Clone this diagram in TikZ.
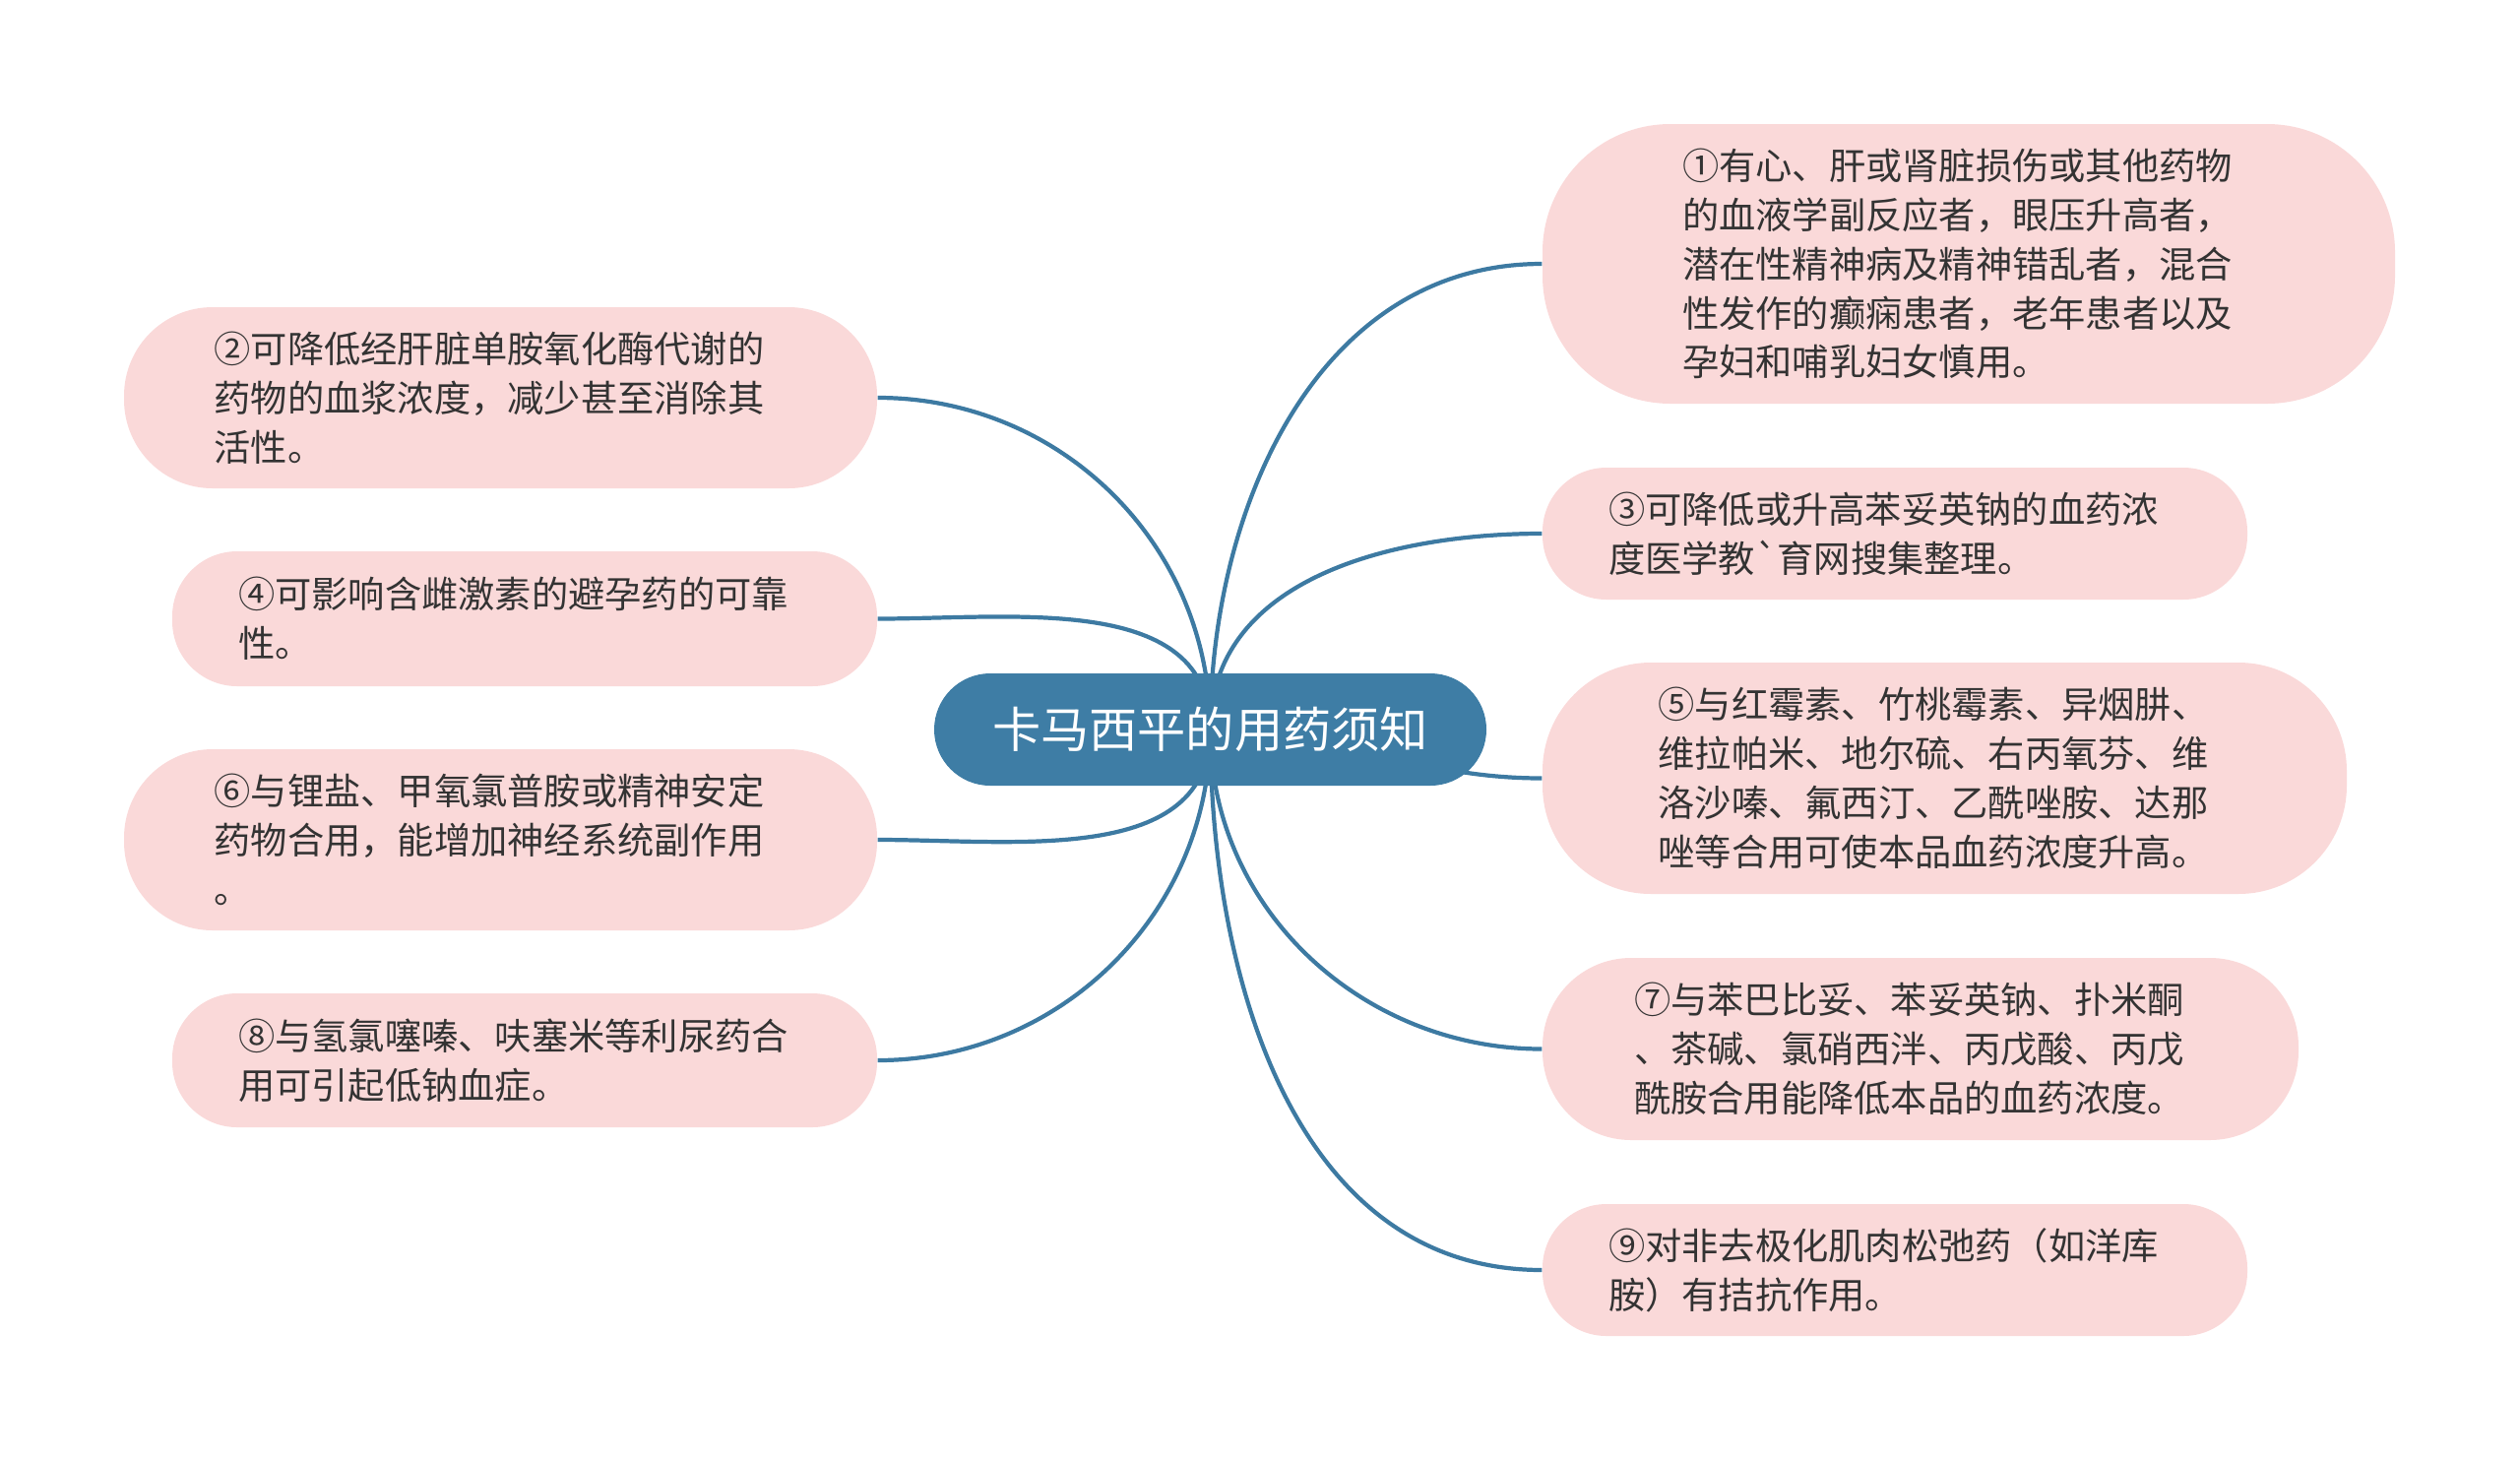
\documentclass[tikz,border=0pt]{standalone}
\usepackage{fontspec}
\newfontfamily\zhfont{Noto Sans CJK SC}
\usepackage{tikz}
\usetikzlibrary{positioning,backgrounds}
\definecolor{rootblue}{HTML}{3E7DA5}
\definecolor{leafpink}{HTML}{FAD9D9}
\definecolor{linkblue}{HTML}{3D7AA2}
\definecolor{leaftext}{HTML}{333333}

\begin{document}
\begin{tikzpicture}[
    root/.style = {rectangle, fill=rootblue, rounded corners=0.57cm, minimum width=5.61cm, minimum height=1.14cm, text=white, font=\zhfont\fontsize{14}{17}\selectfont},
    leaf/.style = {rectangle, fill=leafpink, text=leaftext, text width=5.82cm, align=left, inner sep=0pt, font=\zhfont\fontsize{10.6}{14.2}\selectfont},
    link/.style = {draw=linkblue, line width=1.2pt}
]
    \useasboundingbox (0,0) rectangle (25.6,-14.83);

    % Central topic
    \node[root] (root) at (12.295,-7.41) {卡马西平的用药须知};

    % Right branches
    \node[leaf, minimum width=8.66cm, minimum height=2.84cm, rounded corners=1.3cm] (caution) at (20.00,-2.68) {①有心、肝或肾脏损伤或其他药物\\的血液学副反应者，眼压升高者，\\潜在性精神病及精神错乱者，混合\\性发作的癫痫患者，老年患者以及\\孕妇和哺乳妇女慎用。};
    \node[leaf, minimum width=7.16cm, minimum height=1.34cm, rounded corners=0.65cm] (phenytoin) at (19.25,-5.42) {③可降低或升高苯妥英钠的血药浓\\度医学教`育网搜集整理。};
    \node[leaf, minimum width=8.17cm, minimum height=2.35cm, rounded corners=1.1cm] (raise) at (19.755,-7.905) {⑤与红霉素、竹桃霉素、异烟肼、\\维拉帕米、地尔硫、右丙氧芬、维\\洛沙嗪、氟西汀、乙酰唑胺、达那\\唑等合用可使本品血药浓度升高。};
    \node[leaf, minimum width=7.68cm, minimum height=1.85cm, rounded corners=0.9cm] (lower) at (19.51,-10.655) {⑦与苯巴比妥、苯妥英钠、扑米酮\\、茶碱、氯硝西泮、丙戊酸、丙戊\\酰胺合用能降低本品的血药浓度。};
    \node[leaf, minimum width=7.16cm, minimum height=1.34cm, rounded corners=0.65cm] (relaxant) at (19.25,-12.90) {⑨对非去极化肌肉松弛药（如洋库\\胺）有拮抗作用。};

    % Left branches
    \node[leaf, minimum width=7.65cm, minimum height=1.84cm, rounded corners=0.9cm] (maoi) at (5.085,-4.04) {②可降低经肝脏单胺氧化酶代谢的\\药物的血浆浓度，减少甚至消除其\\活性。};
    \node[leaf, minimum width=7.16cm, minimum height=1.37cm, rounded corners=0.66cm] (contraceptive) at (5.33,-6.285) {④可影响含雌激素的避孕药的可靠\\性。};
    \node[leaf, minimum width=7.65cm, minimum height=1.84cm, rounded corners=0.9cm] (lithium) at (5.085,-8.53) {⑥与锂盐、甲氧氯普胺或精神安定\\药物合用，能增加神经系统副作用\\。};
    \node[leaf, minimum width=7.16cm, minimum height=1.36cm, rounded corners=0.66cm] (diuretic) at (5.33,-10.77) {⑧与氢氯噻嗪、呋塞米等利尿药合\\用可引起低钠血症。};

    % Curved connectors behind the nodes
    \begin{scope}[on background layer]
        \draw[link] (root.center) to[out=90,in=180] (caution.west);
        \draw[link] (root.center) to[out=90,in=180] (phenytoin.west);
        \draw[link] (root.center) to[out=0,in=180] (raise.west);
        \draw[link] (root.center) to[out=-90,in=180] (lower.west);
        \draw[link] (root.center) to[out=-90,in=180] (relaxant.west);
        \draw[link] (root.center) to[out=90,in=0] (maoi.east);
        \draw[link] (root.center) to[out=90,in=0] (contraceptive.east);
        \draw[link] (root.center) to[out=-90,in=0] (lithium.east);
        \draw[link] (root.center) to[out=-90,in=0] (diuretic.east);
    \end{scope}
\end{tikzpicture}
\end{document}
